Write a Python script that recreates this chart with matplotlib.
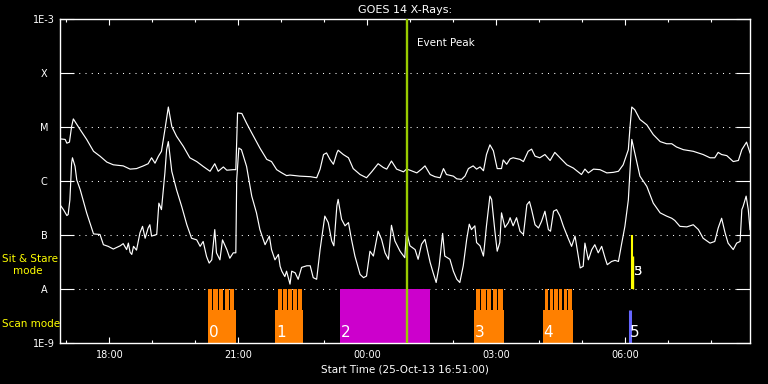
import matplotlib
matplotlib.use("Agg")
import matplotlib.pyplot as plt
import numpy as np

# time axis: hours since 25-Oct-13 00:00 UT (start of plot 16:51)
t_start, t_end = 16.85, 32.90

# GOES 14 long channel (1-8 A), log10 flux W/m^2
long_t = [16.85, 16.97, 17.01, 17.07, 17.12, 17.16, 17.20, 17.32, 17.47, 17.63,
          17.78, 17.94, 18.09, 18.32, 18.48, 18.63, 18.79, 18.90, 18.98, 19.06,
          19.14, 19.21, 19.29, 19.37, 19.45, 19.56, 19.72, 19.87, 20.03, 20.18,
          20.34, 20.45, 20.53, 20.65, 20.73, 20.88, 20.94, 20.98, 21.08, 21.19,
          21.31, 21.50, 21.66, 21.77, 21.89, 22.01, 22.12,
          22.20, 22.43, 22.67, 22.82, 22.90, 22.98, 23.05, 23.13, 23.21, 23.29,
          23.32, 23.44, 23.56, 23.67, 23.83, 23.98, 24.10, 24.25, 24.37, 24.45,
          24.56, 24.68, 24.84, 24.91, 24.99, 25.15, 25.26, 25.34, 25.46, 25.57,
          25.69, 25.77, 25.84, 26.00, 26.08, 26.19, 26.27, 26.35, 26.46, 26.54,
          26.62, 26.70, 26.77, 26.85, 26.93, 27.02, 27.12, 27.16, 27.24, 27.32,
          27.39,
          27.55, 27.63, 27.74, 27.82, 27.90, 28.01, 28.13, 28.25, 28.36, 28.48,
          28.64, 28.79, 28.98, 29.06, 29.14, 29.26, 29.41, 29.57, 29.72, 29.84,
          29.95, 30.07, 30.11, 30.15, 30.22, 30.34, 30.50, 30.65, 30.81, 30.96,
          31.08, 31.19, 31.35, 31.58, 31.81, 31.97, 32.08, 32.16, 32.24, 32.36,
          32.51, 32.63, 32.71, 32.82, 32.90]
long_logf = [-5.22, -5.23, -5.30, -5.28, -4.99, -4.85, -4.90, -5.05, -5.23, -5.45,
             -5.54, -5.65, -5.70, -5.72, -5.78, -5.77, -5.72, -5.68, -5.57, -5.67,
             -5.54, -5.45, -5.05, -4.63, -4.99, -5.17, -5.36, -5.57, -5.64, -5.73,
             -5.82, -5.68, -5.82, -5.74, -5.80, -5.79, -5.79, -4.74, -4.75, -4.93,
             -5.11, -5.39, -5.60, -5.64, -5.79, -5.85, -5.90,
             -5.89, -5.91, -5.92, -5.94, -5.78, -5.51, -5.48, -5.60, -5.69, -5.48,
             -5.43, -5.51, -5.57, -5.77, -5.88, -5.94, -5.83, -5.68, -5.75, -5.78,
             -5.63, -5.78, -5.83, -5.78, -5.80, -5.85, -5.78, -5.72, -5.88, -5.92,
             -5.94, -5.77, -5.88, -5.91, -5.96, -5.97, -5.91, -5.77, -5.72, -5.78,
             -5.74, -5.81, -5.51, -5.33, -5.44, -5.77, -5.77, -5.61, -5.69, -5.59,
             -5.57,
             -5.60, -5.64, -5.45, -5.41, -5.54, -5.57, -5.51, -5.62, -5.47, -5.57,
             -5.70, -5.76, -5.88, -5.78, -5.85, -5.78, -5.79, -5.85, -5.84, -5.82,
             -5.70, -5.42, -4.99, -4.63, -4.68, -4.86, -4.96, -5.14, -5.27, -5.31,
             -5.31, -5.37, -5.42, -5.45, -5.51, -5.57, -5.57, -5.47, -5.51, -5.53,
             -5.64, -5.62, -5.42, -5.28, -5.48]

# GOES 14 short channel (0.5-4 A), log10 flux W/m^2
short_t = [16.85, 16.93, 17.01, 17.04, 17.08, 17.12, 17.14, 17.20, 17.24, 17.32,
           17.47, 17.63, 17.78, 17.86, 17.97, 18.09, 18.25, 18.32, 18.40, 18.44,
           18.48, 18.52, 18.56, 18.63, 18.71, 18.77, 18.83, 18.90, 18.94, 18.98,
           19.10, 19.15, 19.21, 19.29, 19.33, 19.37, 19.45, 19.56, 19.68, 19.80,
           19.91, 20.03, 20.11, 20.18, 20.26, 20.32, 20.38, 20.45, 20.49, 20.57,
           20.63, 20.73, 20.80, 20.88, 20.94, 20.96, 21.01, 21.07, 21.19, 21.31,
           21.42, 21.50, 21.62, 21.72, 21.77, 21.85, 21.93, 21.97, 22.01, 22.08,
           22.12,
           22.20, 22.24, 22.32, 22.39, 22.47, 22.59, 22.67, 22.74, 22.82, 22.90,
           23.01, 23.09, 23.17, 23.22, 23.29, 23.32, 23.40, 23.48, 23.56, 23.63,
           23.71, 23.83, 23.91, 23.98, 24.06, 24.14, 24.25, 24.33, 24.41, 24.49,
           24.56, 24.64, 24.76, 24.87, 24.91, 24.99, 25.11, 25.18, 25.26, 25.34,
           25.46, 25.53, 25.60, 25.67, 25.75, 25.80, 25.92, 26.00, 26.08, 26.15,
           26.23, 26.31, 26.37, 26.42, 26.50, 26.54, 26.62, 26.70, 26.77, 26.85,
           26.89, 26.97, 27.02, 27.08, 27.12, 27.20, 27.28, 27.32, 27.39, 27.47,
           27.55, 27.63, 27.71, 27.77, 27.82, 27.90, 27.98, 28.05, 28.13, 28.21,
           28.26, 28.33, 28.40, 28.48, 28.56, 28.67, 28.75, 28.83, 28.95, 29.02,
           29.06, 29.14, 29.22, 29.29, 29.37, 29.45, 29.53, 29.58, 29.68, 29.76,
           29.84, 29.91, 29.99, 30.07, 30.15, 30.22, 30.34, 30.50, 30.65, 30.81,
           30.96, 31.08, 31.15, 31.27, 31.43, 31.58, 31.70, 31.81, 31.97, 32.08,
           32.16, 32.24, 32.32, 32.39, 32.51, 32.59, 32.67, 32.71, 32.74, 32.81,
           32.86, 32.90]
short_logf = [-6.44, -6.53, -6.64, -6.62, -6.35, -5.67, -5.57, -5.73, -5.98, -6.16,
              -6.59, -6.98, -6.99, -7.18, -7.21, -7.26, -7.20, -7.16, -7.27, -7.15,
              -7.32, -7.36, -7.21, -7.28, -6.96, -6.84, -7.06, -6.87, -6.81, -7.02,
              -6.99, -6.41, -6.53, -5.85, -5.42, -5.27, -5.82, -6.16, -6.47, -6.81,
              -7.06, -7.09, -7.21, -7.12, -7.40, -7.52, -7.46, -6.90, -7.33, -7.46,
              -7.09, -7.27, -7.43, -7.33, -7.33, -5.98, -5.39, -5.42, -5.73, -6.28,
              -6.59, -6.90, -7.18, -7.02, -7.27, -7.46, -7.36, -7.58, -7.67, -7.77,
              -7.67,
              -7.91, -7.67, -7.70, -7.82, -7.60, -7.57, -7.57, -7.79, -7.82, -7.27,
              -6.65, -6.77, -7.11, -7.20, -6.46, -6.34, -6.71, -6.83, -6.77, -7.08,
              -7.39, -7.73, -7.79, -7.76, -7.30, -7.39, -6.93, -7.08, -7.33, -7.45,
              -6.82, -7.11, -7.30, -7.42, -6.93, -7.20, -7.27, -7.45, -7.17, -7.08,
              -7.51, -7.70, -7.88, -7.57, -6.97, -7.39, -7.45, -7.67, -7.82, -7.88,
              -7.57, -7.08, -6.80, -6.90, -6.83, -7.14, -7.20, -7.39, -6.83, -6.28,
              -6.34, -6.96, -7.30, -7.14, -6.59, -6.86, -6.77, -6.68, -6.83, -6.68,
              -6.93, -6.99, -6.44, -6.38, -6.53, -6.81, -6.87, -6.75, -6.56, -6.90,
              -6.93, -6.56, -6.53, -6.65, -6.84, -7.06, -7.21, -7.02, -7.61, -7.58,
              -7.15, -7.46, -7.27, -7.18, -7.33, -7.21, -7.43, -7.55, -7.49, -7.47,
              -7.49, -7.18, -6.84, -6.35, -5.23, -5.48, -5.91, -6.10, -6.41, -6.59,
              -6.65, -6.69, -6.73, -6.84, -6.85, -6.81, -6.90, -7.06, -7.15, -7.12,
              -6.87, -6.69, -6.96, -7.15, -7.27, -7.15, -7.12, -6.53, -6.47, -6.28,
              -6.53, -6.90]

# observing modes timeline
scan_start = [20.29, 21.85, 26.48, 28.08]
scan_end = [20.94, 22.50, 27.18, 28.78]
raster_start = [20.29, 21.92, 26.52, 28.13]
n_rasters = [5, 5, 5, 6]
scan_ids = ["0", "1", "3", "4"]
stare_start, stare_end, stare_id = 23.36, 25.45, "2"
obs5_t = 30.12
sns_t = [30.145, 30.18]
sns_top_logf = [-7.0, -7.39]
event_peak_t = 24.92

flux_levels = [1e-9, 1e-8, 1e-7, 1e-6, 1e-5, 1e-4, 1e-3]
flux_labels = ["1E-9", "A", "B", "C", "M", "X", "1E-3"]
major_hours = [18, 21, 24, 27, 30]
major_labels = ["18:00", "21:00", "00:00", "03:00", "06:00"]

FG = "white"
ORANGE, MAGENTA, BLUE = "#ff8000", "#cc00cc", "#6666ff"
YELLOW, PEAK = "#ffff00", "#99cc00"
scan_top = 10 ** -8.39

plt.rcParams["font.family"] = "DejaVu Sans"
fig = plt.figure(figsize=(7.68, 3.84), dpi=100, facecolor="black")
ax = fig.add_axes([60 / 768, 41 / 384, 690 / 768, 324 / 384], facecolor="black")
ax.set_yscale("log")

# dotted class levels
for lv in flux_levels[1:-1]:
    ax.axhline(lv, color=FG, lw=0.75, ls=(0, (1, 5)), zorder=1)

# flux curves
ax.plot(long_t, 10 ** np.array(long_logf), color=FG, lw=0.85, zorder=3)
ax.plot(short_t, 10 ** np.array(short_logf), color=FG, lw=0.85, zorder=3)

# scan mode blocks: body + individual raster stripes
for s, e, rs, n, lab in zip(scan_start, scan_end, raster_start, n_rasters, scan_ids):
    ax.bar(s, scan_top - 1e-9, width=e - s, bottom=1e-9, align="edge",
           color=ORANGE, lw=0, zorder=2)
    period = (e - rs) / n
    starts = [rs + k * period for k in range(n)]
    ax.bar(starts, 1e-8 - 1e-9, width=period * 0.76, bottom=1e-9,
           align="edge", color=ORANGE, lw=0, zorder=2)
    ax.text(s + 0.02, 10 ** -8.81, lab, color=FG, fontsize=11,
            ha="left", va="center", zorder=5)

# sit & stare block in scan row (magenta)
ax.bar(stare_start, 1e-8 - 1e-9, width=stare_end - stare_start, bottom=1e-9,
       align="edge", color=MAGENTA, lw=0, zorder=2)
ax.text(stare_start + 0.03, 10 ** -8.81, stare_id, color=FG, fontsize=11,
        ha="left", va="center", zorder=5)

# obs 5: short scan + sit & stare
ax.vlines(obs5_t, 1e-9, scan_top, color=BLUE, lw=2.2, zorder=2)
ax.text(obs5_t - 0.01, 10 ** -8.81, "5", color=FG, fontsize=11,
        ha="left", va="center", zorder=5)
ax.vlines(sns_t[0], 1e-8, 10 ** sns_top_logf[0], color=YELLOW, lw=1.5, zorder=4)
ax.vlines(sns_t[1], 1e-8, 10 ** sns_top_logf[1], color=YELLOW, lw=1.0, zorder=4)
for lab in ["3", "5"]:
    ax.text(sns_t[1] + 0.02, 10 ** -7.68, lab, color=FG, fontsize=9.5,
            ha="left", va="center", zorder=5)

# event peak marker
ax.axvline(event_peak_t, color=PEAK, lw=1.7, zorder=4)
ax.text(event_peak_t + 0.23, 10 ** -3.44, "Event Peak", color=FG,
        fontsize=7.5, ha="left", va="center")

ax.set_xlim(t_start, t_end)
ax.set_ylim(1e-9, 1e-3)
ax.set_yticks(flux_levels, flux_labels)
ax.yaxis.set_minor_locator(matplotlib.ticker.NullLocator())
ax.set_xticks(major_hours, major_labels)
ax.set_xticks(range(17, 33), minor=True)
ax.tick_params(axis="y", which="major", direction="in", length=10, width=0.8,
               left=True, right=True, colors=FG, labelsize=7, pad=11.5)
for lab in ax.get_yticklabels():
    lab.set_ha("center")
ax.tick_params(axis="x", which="major", direction="in", length=4.3, width=0.8,
               top=True, bottom=True, colors=FG, labelsize=7, pad=5)
ax.tick_params(axis="x", which="minor", direction="in", length=2.2, width=0.8,
               top=True, bottom=True, colors=FG)
for sp in ax.spines.values():
    sp.set_color(FG)
    sp.set_linewidth(1.0)

ax.set_title("GOES 14 X-Rays:", color=FG, fontsize=8, pad=4)
ax.set_xlabel("Start Time (25-Oct-13 16:51:00)", color=FG, fontsize=7.5,
              labelpad=3)

# mode row labels
fig.text(2 / 768, 1 - 259 / 384, "Sit & Stare", color=YELLOW, fontsize=7.5,
         ha="left", va="center")
fig.text(13 / 768, 1 - 271 / 384, "mode", color=YELLOW, fontsize=7.5,
         ha="left", va="center")
fig.text(2 / 768, 1 - 324 / 384, "Scan mode", color=YELLOW, fontsize=7.5,
         ha="left", va="center")

fig.savefig("out.png", dpi=100, facecolor="black")
